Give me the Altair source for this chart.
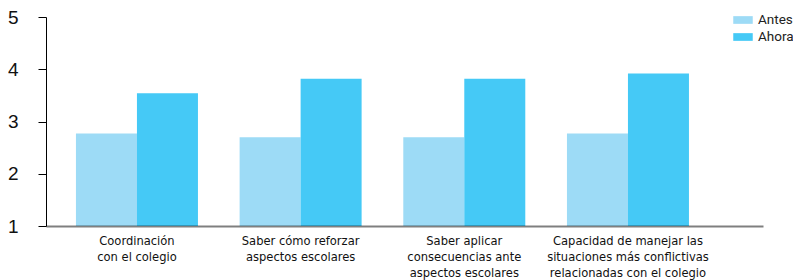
import altair as alt
import pandas as pd

categories = [
    "Coordinación|con el colegio",
    "Saber cómo reforzar|aspectos escolares",
    "Saber aplicar|consecuencias ante|aspectos escolares",
    "Capacidad de manejar las|situaciones más conflictivas|relacionadas con el colegio",
]
series = ["Antes", "Ahora"]
antes = [2.77, 2.70, 2.70, 2.77]
ahora = [3.54, 3.82, 3.82, 3.92]
colors = ["#9ddbf6", "#45c9f6"]

rows = []
for c, a, b in zip(categories, antes, ahora):
    rows.append({"cat": c, "serie": "Antes", "valor": a})
    rows.append({"cat": c, "serie": "Ahora", "valor": b})
df = pd.DataFrame(rows)

label_font = "DejaVu Sans Condensed, Liberation Sans Narrow, Roboto"

chart = alt.Chart(df).mark_bar().encode(
    x=alt.X(
        "cat:N",
        sort=categories,
        title=None,
        scale=alt.Scale(paddingInner=0.2546, paddingOuter=0.3177, align=0.288),
        axis=alt.Axis(
            labelAngle=0,
            labelExpr="split(datum.label, '|')",
            labelFont=label_font,
            labelFontSize=12.8,
            labelLineHeight=16,
            labelColor="#111111",
            labelPadding=8,
            ticks=False,
            domainColor="#000000",
            domainOpacity=0.5,
            domainWidth=2,
            zindex=1,
            labelLimit=300,
        ),
    ),
    xOffset=alt.XOffset("serie:N", sort=series, scale=alt.Scale(paddingInner=0, paddingOuter=0)),
    y=alt.Y(
        "valor:Q",
        title=None,
        scale=alt.Scale(domain=[1, 5], zero=False, nice=False),
        axis=alt.Axis(
            values=[1, 2, 3, 4, 5],
            grid=False,
            labelFont="Liberation Sans",
            labelFontSize=19,
            labelColor="#111111",
            labelPadding=20,
            tickSize=8,
            tickColor="#000000",
            domainColor="#000000",
            domainWidth=1,
        ),
    ),
    y2=alt.datum(1),
    color=alt.Color(
        "serie:N",
        sort=series,
        scale=alt.Scale(domain=series, range=colors),
        legend=alt.Legend(
            title=None,
            orient="none",
            legendX=687,
            legendY=-7,
            symbolType="M-1,-0.395H1V0.395H-1Z",
            symbolSize=380,
            symbolStrokeWidth=0,
            labelFont="Roboto",
            labelFontSize=13.5,
            labelColor="#222222",
            labelOffset=5,
            rowPadding=0,
        ),
    ),
).properties(
    width=717,
    height=209,
    autosize=alt.AutoSizeParams(type="none"),
    padding={"left": 38, "top": 9, "right": 30, "bottom": 60},
).configure_view(stroke=None)

chart.save("out.html", embed_options={"renderer": "svg", "actions": False})
